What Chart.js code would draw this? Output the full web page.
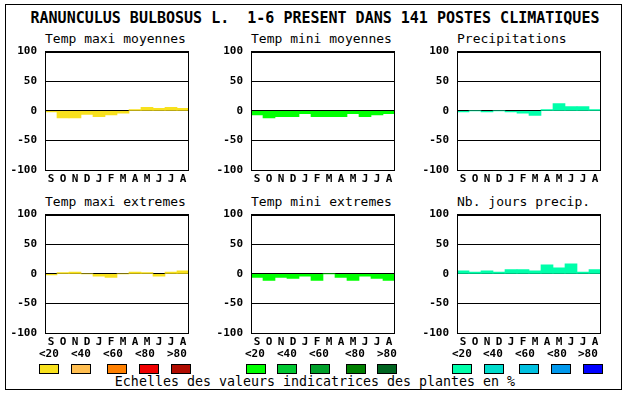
<!DOCTYPE html>
<html>
<head>
<meta charset="utf-8">
<script src="https://cdn.jsdelivr.net/npm/chart.js@4.4.1/dist/chart.umd.min.js"></script>
<style>
    body { margin: 0; background: #fff; width: 630px; height: 394px; position: relative; overflow: hidden; }
    .txt { position: absolute; font-family: "DejaVu Sans Mono", monospace; color: #000; white-space: pre; }
    .frame { position: absolute; left: 5px; top: 4px; width: 617px; height: 386px; border: 1px solid #000; box-sizing: border-box; }
    canvas { position: absolute; }
    .swatch { position: absolute; width: 20px; height: 10px; border: 1px solid #000; box-sizing: border-box; }
</style>
</head>
<body>
<div class="frame"></div>
<div class="txt" id="mainTitle" style="left:0;top:10px;width:630px;text-align:center;font-size:15px;font-weight:bold;line-height:16px;">RANUNCULUS BULBOSUS L.  1-6 PRESENT DANS 141 POSTES CLIMATIQUES</div>
<div class="txt" style="left:0;top:374px;width:630px;text-align:center;font-size:13.3px;line-height:16px;">Echelles des valeurs indicatrices des plantes en %</div>
<div id="panels"></div>
<script>
// Months from September to August
let months = ['S', 'O', 'N', 'D', 'J', 'F', 'M', 'A', 'M', 'J', 'J', 'A'];
let yTicks = [-100, -50, 0, 50, 100];

let tempMaxiMoyennes = [-2, -12, -12, -6, -10, -7, -4, 2, 6, 4, 6, 4];
let tempMiniMoyennes = [-7, -12, -10, -10, -5, -10, -10, -10, -5, -10, -7, -5];
let precipitations = [-2, 0, -2, 0, -2, -4, -8, 2, 12, 7, 7, 2];
let tempMaxiExtremes = [-2, 2, 3, 0, -4, -6, 0, 3, 2, -4, 3, 5];
let tempMiniExtremes = [-6, -11, -6, -8, -4, -11, 0, -6, -11, -4, -8, -11];
let nbJoursPrecip = [5, 3, 5, 3, 7, 7, 5, 15, 10, 17, 3, 7];

let legendLabels = ['<20', '<40', '<60', '<80', '>80'];
let yellowScale = ['#f8e11d', '#ffbe50', '#ff8000', '#f00000', '#b00c00'];
let greenScale = ['#00ff00', '#00c832', '#00a02a', '#008000', '#006420'];
let blueScale = ['#00ffaa', '#00dccc', '#00c0e0', '#0098ec', '#0000ff'];

let panels = [
    { title: 'Temp maxi moyennes', data: tempMaxiMoyennes, color: yellowScale[0], left: 45, top: 51 },
    { title: 'Temp mini moyennes', data: tempMiniMoyennes, color: greenScale[0], left: 251, top: 51 },
    { title: 'Precipitations', data: precipitations, color: blueScale[0], left: 457, top: 51 },
    { title: 'Temp maxi extremes', data: tempMaxiExtremes, color: yellowScale[0], left: 45, top: 214 },
    { title: 'Temp mini extremes', data: tempMiniExtremes, color: greenScale[0], left: 251, top: 214 },
    { title: 'Nb. jours precip.', data: nbJoursPrecip, color: blueScale[0], left: 457, top: 214 }
];

// space above the plot area inside each canvas (room for the "100" label)
let padTop = 14;

// black box round each plot area
let frameBox = {
    id: 'frameBox',
    afterDraw: (chart) => {
        let a = chart.chartArea;
        let ctx = chart.ctx;
        ctx.save();
        ctx.strokeStyle = '#000';
        ctx.lineWidth = 1;
        ctx.strokeRect(Math.round(a.left) + 0.5, Math.round(a.top) + 0.5,
            Math.round(a.right - a.left) - 1, Math.round(a.bottom - a.top));
        ctx.restore();
    }
};

let axisFont = { family: '"DejaVu Sans Mono", monospace', size: 11, weight: 'bold' };

let plotPanel = (panel) => {
    let holder = document.getElementById('panels');

    let title = document.createElement('div');
    title.className = 'txt';
    title.style.cssText = `left:${panel.left}px;top:${panel.top - 20}px;font-size:13px;line-height:15px;`;
    title.textContent = panel.title;
    holder.appendChild(title);

    let canvas = document.createElement('canvas');
    canvas.width = 40 + 144 + 4;
    canvas.height = padTop + 119 + 16;
    canvas.style.left = (panel.left - 40) + 'px';
    canvas.style.top = (panel.top - padTop) + 'px';
    holder.appendChild(canvas);

    new Chart(canvas.getContext('2d'), {
        type: 'bar',
        data: {
            labels: months,
            datasets: [{
                data: panel.data,
                backgroundColor: panel.color,
                borderWidth: 0,
                categoryPercentage: 1,
                barPercentage: 1
            }]
        },
        options: {
            responsive: false,
            animation: false,
            devicePixelRatio: 1,
            layout: { padding: { top: padTop, right: 4, left: 0, bottom: 0 } },
            plugins: { legend: { display: false }, tooltip: { enabled: false } },
            scales: {
                x: {
                    grid: { display: false, drawTicks: false },
                    border: { display: false },
                    ticks: { color: '#000', font: axisFont, padding: 3, maxRotation: 0, autoSkip: false },
                    afterFit: (scale) => { scale.height = 16; }
                },
                y: {
                    min: -100,
                    max: 100,
                    z: 1,
                    afterBuildTicks: (scale) => { scale.ticks = yTicks.map(v => ({ value: v })); },
                    grid: { color: '#000', lineWidth: 1, drawTicks: false },
                    border: { display: false },
                    ticks: { color: '#000', font: axisFont, padding: 8 },
                    afterFit: (scale) => { scale.width = 40; }
                }
            }
        },
        plugins: [frameBox]
    });
};

panels.forEach(plotPanel);

// colour scales under each column
let legendGroups = [
    { colors: yellowScale, labelX: [39, 71, 103, 135, 167], boxX: [39, 71, 107, 139, 171] },
    { colors: greenScale, labelX: [245, 277, 309, 345, 377], boxX: [246, 277, 310, 346, 377] },
    { colors: blueScale, labelX: [452, 483, 515, 547, 578], boxX: [452, 484, 519, 551, 583] }
];

legendGroups.forEach((group) => {
    let holder = document.getElementById('panels');
    legendLabels.forEach((label, i) => {
        let t = document.createElement('div');
        t.className = 'txt';
        t.style.cssText = `left:${group.labelX[i]}px;top:347px;font-size:11px;font-weight:bold;line-height:14px;`;
        t.textContent = label;
        holder.appendChild(t);

        let box = document.createElement('div');
        box.className = 'swatch';
        box.style.left = group.boxX[i] + 'px';
        box.style.top = '364px';
        box.style.background = group.colors[i];
        holder.appendChild(box);
    });
});
</script>
</body>
</html>
